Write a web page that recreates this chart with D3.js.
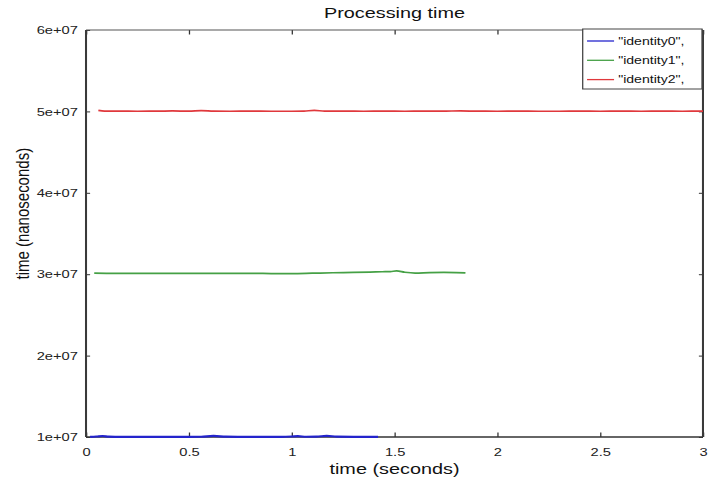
<!DOCTYPE html>
<html>
<head>
<meta charset="utf-8">
<script src="https://cdn.jsdelivr.net/npm/d3@7"></script>
<style>
  html, body { margin: 0; padding: 0; background: #fff; }
  svg { display: block; font-family: "Liberation Sans", Arial, Helvetica, sans-serif; }
</style>
</head>
<body>
<script>
// series: time in seconds, processing time in nanoseconds
const seriesNames = ['"identity0",', '"identity1",', '"identity2",'];
const seriesColors = ["#2424cc", "#45a045", "#e0383c"];

const blueTime = [0.02, 0.05, 0.08, 0.11, 0.15, 0.2, 0.3, 0.4, 0.5, 0.56, 0.62, 0.68, 0.75, 0.85, 0.95, 1.0, 1.03, 1.07, 1.12, 1.17, 1.22, 1.3, 1.36, 1.42];
const blueValue = [1.002e7, 1.006e7, 1.012e7, 1.004e7, 1.002e7, 1.001e7, 1.001e7, 1.002e7, 1.001e7, 1.003e7, 1.013e7, 1.004e7, 1.002e7, 1.001e7, 1.002e7, 1.006e7, 1.01e7, 1.003e7, 1.004e7, 1.014e7, 1.004e7, 1.002e7, 1.002e7, 1.002e7];

const greenTime = [0.04, 0.1, 0.2, 0.3, 0.4, 0.5, 0.6, 0.7, 0.8, 0.9, 1.0, 1.1, 1.2, 1.3, 1.38, 1.44, 1.48, 1.51, 1.55, 1.6, 1.67, 1.74, 1.8, 1.845];
const greenValue = [3.012e7, 3.01e7, 3.009e7, 3.009e7, 3.009e7, 3.01e7, 3.009e7, 3.009e7, 3.01e7, 3.008e7, 3.007e7, 3.012e7, 3.018e7, 3.022e7, 3.026e7, 3.03e7, 3.032e7, 3.04e7, 3.024e7, 3.014e7, 3.02e7, 3.022e7, 3.02e7, 3.016e7];

const redTime = [0.06, 0.09, 0.15, 0.25, 0.35, 0.42, 0.5, 0.56, 0.62, 0.7, 0.8, 0.9, 1.0, 1.06, 1.11, 1.16, 1.25, 1.35, 1.45, 1.55, 1.65, 1.75, 1.82, 1.9, 2.0, 2.1, 2.2, 2.3, 2.4, 2.5, 2.6, 2.7, 2.8, 2.9, 3.0];
const redValue = [5.012e7, 5.004e7, 5.003e7, 5.002e7, 5.003e7, 5.006e7, 5.003e7, 5.01e7, 5.004e7, 5.002e7, 5.003e7, 5.002e7, 5.002e7, 5.004e7, 5.012e7, 5.004e7, 5.003e7, 5.002e7, 5.003e7, 5.002e7, 5.003e7, 5.004e7, 5.006e7, 5.003e7, 5.002e7, 5.003e7, 5.002e7, 5.002e7, 5.003e7, 5.002e7, 5.003e7, 5.002e7, 5.004e7, 5.002e7, 5.003e7];

const xTicks = [0, 0.5, 1, 1.5, 2, 2.5, 3];
const xTickLabels = ["0", "0.5", "1", "1.5", "2", "2.5", "3"];
const yTicks = [1e7, 2e7, 3e7, 4e7, 5e7, 6e7];
const yTickLabels = ["1e+07", "2e+07", "3e+07", "4e+07", "5e+07", "6e+07"];

const series = [
  { time: blueTime, value: blueValue },
  { time: greenTime, value: greenValue },
  { time: redTime, value: redValue },
];

// the original picture is stretched sideways, so draw in a narrower space
const SX = 1.28;
const width = 713;
const height = 478;
const vw = width / SX;
const margin = { top: 30, right: vw - 549.2, bottom: 41, left: 67.2 };

const svg = d3
  .select("body")
  .append("svg")
  .attr("width", width)
  .attr("height", height)
  .attr("viewBox", `0 0 ${vw} ${height}`)
  .attr("preserveAspectRatio", "none");

const x = d3
  .scaleLinear()
  .domain([0, 3])
  .range([margin.left, vw - margin.right]);

const y = d3
  .scaleLinear()
  .domain([1e7, 6e7])
  .range([height - margin.bottom, margin.top]);

// axes with inward ticks
const xb = svg
  .append("g")
  .attr("transform", `translate(0,${y(1e7)})`)
  .call(
    d3.axisBottom(x).tickValues(xTicks).tickFormat((d, i) => xTickLabels[i]).tickSize(-4.5).tickPadding(11)
  );
const xt = svg
  .append("g")
  .attr("transform", `translate(0,${y(6e7)})`)
  .call(d3.axisTop(x).tickValues(xTicks).tickFormat("").tickSize(-4.5));
const yl = svg
  .append("g")
  .attr("transform", `translate(${x(0)},0)`)
  .call(
    d3.axisLeft(y).tickValues(yTicks).tickFormat((d, i) => yTickLabels[i]).tickSize(-3.2).tickPadding(6.3)
  );
const yr = svg
  .append("g")
  .attr("transform", `translate(${x(3)},0)`)
  .call(d3.axisRight(y).tickValues(yTicks).tickFormat("").tickSize(-3.2));

[xb, xt, yl, yr].forEach((g) => {
  g.select(".domain").remove();
  g.selectAll(".tick line").attr("stroke", "#333").attr("stroke-width", 1);
  g.selectAll(".tick text").attr("fill", "#222").style("font-size", "11.5px");
});

// frame
const frame = svg.append("g").attr("fill", "none");
frame.append("line").attr("x1", x(0)).attr("x2", x(3)).attr("y1", y(6e7)).attr("y2", y(6e7))
  .attr("stroke", "#555").attr("stroke-width", 1);
frame.append("line").attr("x1", x(0)).attr("x2", x(3)).attr("y1", y(1e7)).attr("y2", y(1e7))
  .attr("stroke", "#333").attr("stroke-width", 1.3);
frame.append("line").attr("x1", x(0)).attr("x2", x(0)).attr("y1", y(6e7)).attr("y2", y(1e7))
  .attr("stroke", "#3a3a3a").attr("stroke-width", 1.6);
frame.append("line").attr("x1", x(3)).attr("x2", x(3)).attr("y1", y(6e7)).attr("y2", y(1e7))
  .attr("stroke", "#3a3a3a").attr("stroke-width", 1.6);

// lines
const line = d3
  .line()
  .x((d) => x(d[0]))
  .y((d) => y(d[1]))
  .curve(d3.curveMonotoneX);

svg
  .append("g")
  .selectAll("path")
  .data(series)
  .join("path")
  .attr("fill", "none")
  .attr("stroke", (d, i) => seriesColors[i])
  .attr("stroke-width", (d, i) => (i === 0 ? 2.2 : 1.7))
  .attr("d", (d) => line(d.time.map((t, j) => [t, d.value[j]])));

// title and axis labels
svg
  .append("text")
  .attr("x", (x(0) + x(3)) / 2)
  .attr("y", 18.5)
  .attr("text-anchor", "middle")
  .style("font-size", "15.5px")
  .attr("fill", "#111")
  .text("Processing time");

svg
  .append("text")
  .attr("x", (x(0) + x(3)) / 2)
  .attr("y", 474)
  .attr("text-anchor", "middle")
  .style("font-size", "15.5px")
  .attr("fill", "#111")
  .text("time (seconds)");

svg
  .append("text")
  .attr("transform", "rotate(-90)")
  .attr("x", -213.7)
  .attr("y", 23)
  .attr("text-anchor", "middle")
  .style("font-size", "15px")
  .attr("fill", "#111")
  .text("time (nanoseconds)");

// legend
const legend = svg.append("g").attr("transform", `translate(${582.7 / SX},29)`);
legend
  .append("rect")
  .attr("width", (702 - 582.7) / SX)
  .attr("height", 60)
  .attr("fill", "#fff")
  .attr("stroke", "#444")
  .attr("stroke-width", 1);

const rows = legend
  .selectAll("g.row")
  .data(seriesNames)
  .join("g")
  .attr("class", "row")
  .attr("transform", (d, i) => `translate(0,${12 + i * 19.3})`);

rows
  .append("line")
  .attr("x1", 3.4)
  .attr("x2", 24.5)
  .attr("stroke", (d, i) => seriesColors[i])
  .attr("stroke-width", 1.3);

rows
  .append("text")
  .attr("x", 27.7)
  .attr("dy", "0.35em")
  .style("font-size", "11px")
  .attr("fill", "#111")
  .text((d) => d);
</script>
</body>
</html>
